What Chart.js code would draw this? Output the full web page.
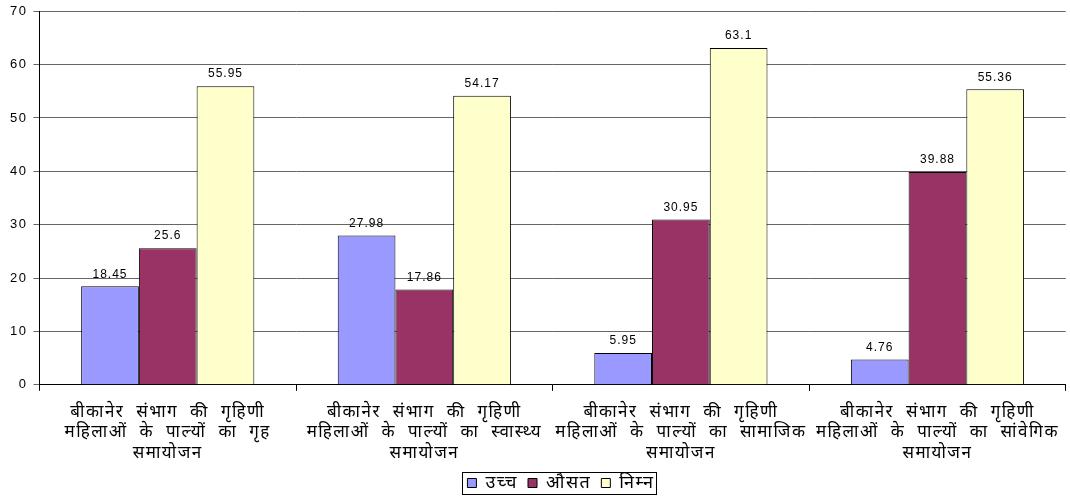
<!DOCTYPE html>
<html>
<head>
<meta charset="utf-8">
<script src="https://cdn.jsdelivr.net/npm/chart.js@4.4.0/dist/chart.umd.min.js"></script>
<style>
  html, body { margin: 0; padding: 0; background: #fff; }
  #wrap { width: 1070px; height: 498px; }
</style>
</head>
<body>
<div id="wrap"><canvas id="adjustment-chart"></canvas></div>
<script>
const categories = [
  ["बीकानेर संभाग की गृहिणी", "महिलाओं के पाल्यों का गृह", "समायोजन"],
  ["बीकानेर संभाग की गृहिणी", "महिलाओं के पाल्यों का स्वास्थ्य", "समायोजन"],
  ["बीकानेर संभाग की गृहिणी", "महिलाओं के पाल्यों का सामाजिक", "समायोजन"],
  ["बीकानेर संभाग की गृहिणी", "महिलाओं के पाल्यों का सांवेगिक", "समायोजन"],
];
const seriesNames = ["उच्च", "औसत", "निम्न"];
const highValues = [18.45, 27.98, 5.95, 4.76];
const averageValues = [25.6, 17.86, 30.95, 39.88];
const lowValues = [55.95, 54.17, 63.1, 55.36];
const yTicks = [0, 10, 20, 30, 40, 50, 60, 70];

const hindiFont = "'Noto Sans', 'Liberation Sans', sans-serif";
const numFont = "'Liberation Sans', Arial, sans-serif";

// the original text is set wide, so spread it out a bit
const wideText = {
  id: "wideText",
  beforeLayout(chart) {
    chart.ctx.wordSpacing = "6px";
    chart.ctx.letterSpacing = "1.5px";
  },
  afterLayout(chart) {
    // legend sits a little right of centre in the original
    if (chart.legend) {
      chart.legend.left += 24;
      chart.legend.right += 24;
    }
  },
  beforeDraw(chart) {
    chart.ctx.wordSpacing = "6px";
    chart.ctx.letterSpacing = "1.5px";
  },
};

// values above each bar
const barValueLabels = {
  id: "barValueLabels",
  afterDatasetsDraw(chart) {
    const ctx = chart.ctx;
    ctx.save();
    ctx.font = "12px " + numFont;
    ctx.letterSpacing = "1px";
    ctx.fillStyle = "#000";
    ctx.textAlign = "center";
    ctx.textBaseline = "bottom";
    chart.data.datasets.forEach((ds, i) => {
      chart.getDatasetMeta(i).data.forEach((bar, j) => {
        ctx.fillText(String(ds.data[j]), bar.x, bar.y - 6);
      });
    });
    ctx.restore();
  },
};

// box round the legend
const legendBorder = {
  id: "legendBorder",
  afterDraw(chart) {
    const items = chart.legend && chart.legend.legendHitBoxes;
    if (!items || !items.length) return;
    const last = items[items.length - 1];
    const left = items[0].left - 5;
    const right = last.left + last.width + 2;
    const top = items[0].top - 2;
    const bottom = items[0].top + items[0].height + 2;
    const ctx = chart.ctx;
    ctx.save();
    ctx.strokeStyle = "#000";
    ctx.lineWidth = 1;
    ctx.strokeRect(Math.round(left) + 0.5, Math.round(top) + 0.5, Math.round(right - left), Math.round(bottom - top));
    ctx.restore();
  },
};

const ctx = document.getElementById("adjustment-chart");

new Chart(ctx, {
  type: "bar",
  data: {
    labels: categories,
    datasets: [
      { label: seriesNames[0], data: highValues, backgroundColor: "#9999FF", borderColor: "#000", borderWidth: 1 },
      { label: seriesNames[1], data: averageValues, backgroundColor: "#993366", borderColor: "#000", borderWidth: 1 },
      { label: seriesNames[2], data: lowValues, backgroundColor: "#FFFFCC", borderColor: "#000", borderWidth: 1 },
    ],
  },
  options: {
    responsive: true,
    maintainAspectRatio: false,
    animation: false,
    layout: { padding: { top: 1, right: 0, left: 4, bottom: -4 } },
    datasets: {
      bar: { categoryPercentage: 0.675, barPercentage: 1 },
    },
    plugins: {
      legend: {
        position: "bottom",
        labels: {
          boxWidth: 9,
          boxHeight: 9,
          padding: 10,
          color: "#000",
          font: { family: hindiFont, size: 18, lineHeight: 1.1 },
        },
      },
      tooltip: { enabled: false },
    },
    scales: {
      x: {
        grid: {
          offset: true,
          drawOnChartArea: false,
          drawTicks: true,
          tickLength: 6,
          color: "#000",
        },
        border: { color: "#000", width: 1 },
        ticks: {
          color: "#000",
          maxRotation: 0,
          autoSkip: false,
          padding: 11,
          font: { family: hindiFont, size: 17, lineHeight: 1.2 },
        },
        afterFit(scale) {
          scale.height -= 10;
        },
      },
      y: {
        min: 0,
        max: 70,
        afterBuildTicks(axis) {
          axis.ticks = yTicks.map((v) => ({ value: v }));
        },
        grid: {
          color: "#666",
          drawTicks: true,
          tickLength: 6,
        },
        border: { color: "#000", width: 1 },
        ticks: {
          color: "#000",
          padding: 6,
          font: { family: numFont, size: 13, lineHeight: 0.8 },
        },
      },
    },
  },
  plugins: [wideText, barValueLabels, legendBorder],
});
</script>
</body>
</html>
